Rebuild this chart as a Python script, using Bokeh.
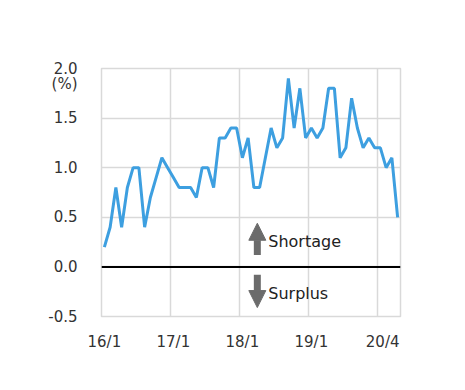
from bokeh.plotting import figure
from bokeh.models import FixedTicker, Label, Arrow, NormalHead, Span
from bokeh.embed import file_html
from bokeh.resources import INLINE

# monthly values, 2016/1 .. 2020/4
months = list(range(52))
values = [0.2, 0.4, 0.8, 0.4, 0.8, 1.0, 1.0, 0.4, 0.7, 0.9, 1.1, 1.0,
          0.9, 0.8, 0.8, 0.8, 0.7, 1.0, 1.0, 0.8, 1.3, 1.3, 1.4, 1.4,
          1.1, 1.3, 0.8, 0.8, 1.1, 1.4, 1.2, 1.3, 1.9, 1.4, 1.8, 1.3,
          1.4, 1.3, 1.4, 1.8, 1.8, 1.1, 1.2, 1.7, 1.4, 1.2, 1.3, 1.2,
          1.2, 1.0, 1.1, 0.5]
x_tick_pos = [0, 12, 24, 36, 48.4]
x_tick_labels = ["16/1", "17/1", "18/1", "19/1", "20/4"]
y_ticks = [-0.5, 0.0, 0.5, 1.0, 1.5, 2.0]
unit_pos = 1.84
unit_label = "(%)"

FONT = "DejaVu Sans"
GRID = "#d9d9d9"

p = figure(width=457, height=382, output_backend="svg", toolbar_location=None,
           x_range=(-0.5, 51.5), y_range=(-0.5, 2.0),
           min_border_left=101, min_border_right=57, min_border_top=68, min_border_bottom=66)
p.outline_line_color = GRID
p.outline_line_width = 1.5
p.background_fill_color = "white"
p.border_fill_color = "white"

# grids
p.xgrid.ticker = FixedTicker(ticks=[11.5, 23.5, 35.5, 47.5])
p.ygrid.ticker = FixedTicker(ticks=y_ticks)
p.xgrid.grid_line_color = GRID
p.ygrid.grid_line_color = GRID
p.xgrid.grid_line_width = 1.5
p.ygrid.grid_line_width = 1.5

# axes
p.yaxis.ticker = FixedTicker(ticks=y_ticks + [unit_pos])
overrides = {v: f"{v:.1f}" for v in y_ticks}
overrides[unit_pos] = unit_label
p.yaxis.major_label_overrides = overrides
p.xaxis.ticker = FixedTicker(ticks=x_tick_pos)
p.xaxis.major_label_overrides = dict(zip(x_tick_pos, x_tick_labels))
for ax in (p.xaxis[0], p.yaxis[0]):
    ax.axis_line_color = None
    ax.major_tick_line_color = None
    ax.minor_tick_line_color = None
    ax.major_label_text_font = FONT
    ax.major_label_text_font_size = "15px"
    ax.major_label_text_color = "#333333"
p.yaxis.major_label_standoff = 18
p.xaxis.major_label_standoff = 10

# zero line
p.add_layout(Span(location=0, dimension="width", line_color="black", line_width=2))

# data line
p.line(months, values, line_color="#3d9fe0", line_width=3)

# shortage / surplus annotation
ARROW_C = "#6b6b6b"
p.add_layout(Arrow(x_start=26.6, y_start=0.12, x_end=26.6, y_end=0.44,
                   line_color=ARROW_C, line_width=7,
                   end=NormalHead(size=17, fill_color=ARROW_C, line_color=ARROW_C, line_width=1)))
p.add_layout(Arrow(x_start=26.6, y_start=-0.08, x_end=26.6, y_end=-0.41,
                   line_color=ARROW_C, line_width=7,
                   end=NormalHead(size=17, fill_color=ARROW_C, line_color=ARROW_C, line_width=1)))
p.add_layout(Label(x=28.5, y=0.255, text="Shortage", text_font=FONT, text_font_size="16px",
                   text_color="#222222", text_baseline="middle"))
p.add_layout(Label(x=28.5, y=-0.265, text="Surplus", text_font=FONT, text_font_size="16px",
                   text_color="#222222", text_baseline="middle"))

open("out.html", "w").write(file_html(p, INLINE))
